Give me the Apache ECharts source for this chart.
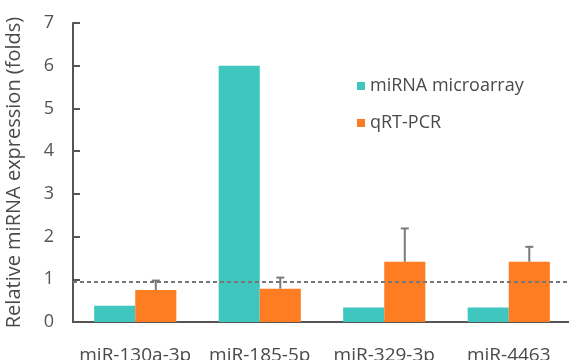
<!DOCTYPE html>
<html>
<head>
<meta charset="utf-8">
<script src="https://cdn.jsdelivr.net/npm/echarts@6/dist/echarts.min.js"></script>
<style>
  html, body { margin: 0; padding: 0; background: #fff; }
  #chart { width: 569px; height: 360px; }
</style>
</head>
<body>
<div id="chart"></div>
<script>
// data
const categories = ['miR-130a-3p', 'miR-185-5p', 'miR-329-3p', 'miR-4463']
const microarray = [0.38, 6.0, 0.34, 0.34]
const qrtPcr = [0.75, 0.78, 1.41, 1.41]
const qrtPcrUpper = [0.97, 1.04, 2.19, 1.76] // top of error bars
const yTicks = [0, 1, 2, 3, 4, 5, 6, 7]
const refLine = 0.94

const chart = echarts.init(document.getElementById('chart'))
const font = 'Open Sans'

// error bars drawn on top of the orange bars
const errorData = qrtPcr.map((v, i) => [i, v, qrtPcrUpper[i]])

const renderError = (params, api) => {
  const i = api.value(0)
  const low = api.coord([i, api.value(1)])
  const high = api.coord([i, api.value(2)])
  const band = api.size([1, 0])[0]
  const x = low[0] + band * 0.165
  const cap = 4
  const style = { stroke: '#7a7a7a', lineWidth: 2 }
  return {
    type: 'group',
    children: [
      { type: 'line', shape: { x1: x, y1: low[1], x2: x, y2: high[1] }, style },
      { type: 'line', shape: { x1: x - cap, y1: high[1], x2: x + cap, y2: high[1] }, style }
    ]
  }
}

const options = {
  animation: false,
  grid: { left: 73, right: -2, top: 23, bottom: 38, outerBoundsMode: 'none', containLabel: false },
  legend: {
    orient: 'vertical',
    left: 352,
    top: 72,
    itemWidth: 8,
    itemHeight: 8,
    itemGap: 19,
    icon: 'rect',
    textStyle: { fontFamily: font, fontSize: 18, color: '#4a4a4a' },
    data: ['miRNA microarray', 'qRT-PCR']
  },
  xAxis: {
    type: 'category',
    data: categories,
    axisLine: { lineStyle: { color: '#555', width: 2 } },
    axisTick: { inside: true, length: 6, lineStyle: { color: '#555', width: 2 } },
    axisLabel: { interval: 0, fontFamily: font, fontSize: 19, color: '#4a4a4a', margin: 24 }
  },
  yAxis: {
    type: 'value',
    min: 0,
    max: 7,
    interval: 1,
    name: 'Relative miRNA expression (folds)',
    nameLocation: 'middle',
    nameGap: 49,
    nameTextStyle: { fontFamily: font, fontSize: 20, color: '#4a4a4a' },
    splitLine: { show: false },
    axisLine: { show: true, lineStyle: { color: '#555', width: 2 } },
    axisTick: { show: true, inside: true, length: 7, lineStyle: { color: '#555', width: 2 } },
    axisLabel: {
      fontFamily: font, fontSize: 18, color: '#555', margin: 19,
      formatter: v => (yTicks.includes(v) ? String(v) : '')
    }
  },
  series: [
    {
      name: 'miRNA microarray',
      type: 'bar',
      data: microarray,
      barWidth: '33%',
      barGap: '0%',
      itemStyle: { color: '#3fc6bf' },
      markLine: {
        silent: true,
        symbol: 'none',
        label: { show: false },
        lineStyle: { color: '#777', type: [4, 3], width: 2 },
        data: [{ yAxis: refLine }]
      }
    },
    {
      name: 'qRT-PCR',
      type: 'bar',
      data: qrtPcr,
      barWidth: '33%',
      barGap: '0%',
      itemStyle: { color: '#fe7d22' }
    },
    {
      name: 'error',
      type: 'custom',
      renderItem: renderError,
      data: errorData,
      z: 3
    }
  ]
}

chart.setOption(options)
</script>
</body>
</html>
